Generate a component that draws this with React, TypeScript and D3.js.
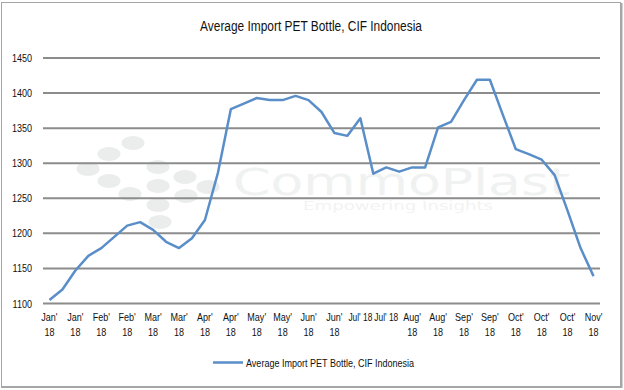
import React, { useEffect, useRef } from 'react';
import * as d3 from 'd3';

// one point per half month, Jan'18 .. Nov'18
const values = [
  1105, 1120, 1147, 1168, 1179, 1195, 1211, 1216, 1205, 1188, 1179,
  1193, 1219, 1286, 1377, 1385, 1393, 1390, 1390, 1396, 1390, 1373,
  1343, 1339, 1364, 1285, 1294, 1288, 1294, 1294, 1351, 1359, 1390,
  1419, 1419, 1369, 1320, 1313, 1305, 1283, 1232, 1179, 1139,
];
// shown under every second point
const tickLabels = [
  "Jan' 18", "Jan' 18", "Feb' 18", "Feb' 18", "Mar' 18", "Mar' 18",
  "Apr' 18", "Apr' 18", "May' 18", "May' 18", "Jun' 18", "Jun' 18",
  "Jul' 18", "Jul' 18", "Aug' 18", "Aug' 18", "Sep' 18", "Sep' 18",
  "Oct' 18", "Oct' 18", "Oct' 18", "Nov' 18",
];
const yTicks = [1100, 1150, 1200, 1250, 1300, 1350, 1400, 1450];
const seriesName = 'Average Import PET Bottle, CIF Indonesia';

const W = 624;
const H = 390;
const FONT = "'Liberation Sans', Arial, sans-serif";

const App = () => {
  const svgRef = useRef(null);

  useEffect(() => {
    const svg = d3.select(svgRef.current);
    svg.selectAll('*').remove();

    const left = 43, right = 600, top = 58, bottom = 303.5;
    const x = d3.scalePoint()
      .domain(d3.range(values.length))
      .range([left, right])
      .padding(0.5);
    const y = d3.scaleLinear().domain([1100, 1450]).range([bottom, top]);

    // frame
    svg.append('rect')
      .attr('x', 1.5).attr('y', 2.5).attr('width', 619).attr('height', 384)
      .attr('fill', '#fff').attr('stroke', '#a6a6a6').attr('stroke-width', 1);
    svg.append('line')
      .attr('x1', 621.5).attr('x2', 621.5).attr('y1', 3).attr('y2', 388)
      .attr('stroke', '#a6a6a6').attr('stroke-width', 2);
    svg.append('line')
      .attr('x1', 1).attr('x2', 622).attr('y1', 387).attr('y2', 387)
      .attr('stroke', '#a6a6a6').attr('stroke-width', 2);

    svg.append('text')
      .attr('class', 'narrow').attr('data-k', 0.85)
      .attr('x', 311).attr('y', 31)
      .attr('text-anchor', 'middle')
      .attr('font-family', FONT).attr('font-size', 14).attr('fill', '#111')
      .text(seriesName);

    // watermark
    const wm = svg.append('g');
    const dots = [
      [133, 143], [109, 154], [88, 169], [158, 167], [109, 181], [130, 194],
      [158, 186], [185, 177], [208, 187], [186, 196], [158, 205], [160, 222],
    ];
    wm.selectAll('ellipse').data(dots).enter().append('ellipse')
      .attr('cx', d => d[0]).attr('cy', d => d[1]).attr('rx', 11.5).attr('ry', 7)
      .attr('fill', '#ebedec');
    wm.append('text')
      .attr('x', 233).attr('y', 195).attr('textLength', 337)
      .attr('lengthAdjust', 'spacingAndGlyphs')
      .attr('fill', '#f0f2f1')
      .attr('font-family', "'DejaVu Sans', sans-serif").attr('font-size', 38)
      .text('CommoPlast');
    wm.append('text')
      .attr('x', 303).attr('y', 210).attr('textLength', 190)
      .attr('lengthAdjust', 'spacingAndGlyphs')
      .attr('fill', '#f2f3f2')
      .attr('font-family', "'DejaVu Sans', sans-serif").attr('font-size', 13)
      .text('Empowering Insights');

    // gridlines + y labels
    svg.append('g').selectAll('line').data(yTicks).enter().append('line')
      .attr('x1', left).attr('x2', right)
      .attr('y1', d => y(d)).attr('y2', d => y(d))
      .attr('stroke', '#8c8c8c').attr('stroke-width', 2);
    svg.append('g').selectAll('text').data(yTicks).enter().append('text')
      .attr('class', 'narrow')
      .attr('x', 32).attr('y', d => y(d) + 4)
      .attr('text-anchor', 'end')
      .attr('font-family', FONT).attr('font-size', 11).attr('fill', '#111')
      .text(d => d);

    // x labels on every second point
    const xl = svg.append('g')
      .attr('font-family', FONT).attr('font-size', 11).attr('fill', '#111')
      .attr('text-anchor', 'middle');
    tickLabels.forEach((lab, i) => {
      const cx = x(i * 2);
      if (lab.startsWith('Jul')) {
        // these two don't wrap in the original
        xl.append('text').attr('class', 'narrow').attr('data-k', 0.76)
          .attr('x', cx).attr('y', 321).text(lab);
      } else {
        const [m, yr] = lab.split(' ');
        xl.append('text').attr('class', 'narrow').attr('x', cx).attr('y', 321).text(m);
        xl.append('text').attr('class', 'narrow').attr('x', cx).attr('y', 336).text(yr);
      }
    });

    const line = d3.line()
      .x((d, i) => x(i))
      .y(d => y(d));
    svg.append('path')
      .datum(values)
      .attr('d', line)
      .attr('fill', 'none')
      .attr('stroke', '#5a8ec8')
      .attr('stroke-width', 2.5)
      .attr('stroke-linejoin', 'round');

    // legend
    svg.append('line')
      .attr('x1', 213).attr('x2', 243).attr('y1', 362.5).attr('y2', 362.5)
      .attr('stroke', '#5a8ec8').attr('stroke-width', 2.5);
    svg.append('text')
      .attr('class', 'narrow')
      .attr('x', 246).attr('y', 366.5)
      .attr('font-family', FONT).attr('font-size', 11).attr('fill', '#111')
      .text(seriesName);

    // squeeze text like a narrow face
    svg.selectAll('text.narrow').each(function () {
      const k = +(this.getAttribute('data-k') || 0.82);
      const w = this.getComputedTextLength();
      d3.select(this)
        .attr('textLength', w * k)
        .attr('lengthAdjust', 'spacingAndGlyphs');
    });
  }, []);

  return (
    <div>
      <svg
        ref={svgRef}
        width={W}
        height={H}
        style={{ position: 'absolute', left: 0, top: 0 }}
      />
    </div>
  );
};

export default App;
